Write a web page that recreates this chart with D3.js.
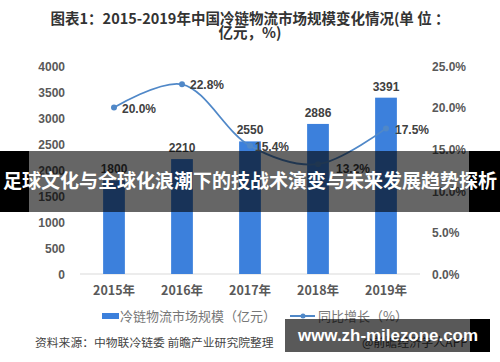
<!DOCTYPE html>
<html><head><meta charset="utf-8">
<script src="https://cdn.jsdelivr.net/npm/d3@7"></script>
<style>html,body{margin:0;padding:0;background:#fff;}svg{display:block;}</style>
</head><body>
<svg id="c" width="500" height="362"></svg>
<script>
const years = ["2015年","2016年","2017年","2018年","2019年"];
const marketSize = [1800, 2210, 2550, 2886, 3391];
const growth = [0.200, 0.228, 0.154, 0.132, 0.175];
const leftTicks = [0,500,1000,1500,2000,2500,3000,3500,4000];
const rightTicks = [0,0.05,0.10,0.15,0.20,0.25];
const titleLines = ["图表1：2015-2019年中国冷链物流市场规模变化情况(单 位 ：","亿元，%)"];
const legendLabels = ["冷链物流市场规模（亿元）","同比增长（%）"];
const sourceText = "资料来源：中物联冷链委 前瞻产业研究院整理";
const creditText = "@前瞻经济学人APP";
const bannerText = "足球文化与全球化浪潮下的技战术演变与未来发展趋势探析";
const urlText = "www.zh-milezone.com";

const svg = d3.select("#c");
const CJK = "'Noto Sans CJK SC','Noto Sans',sans-serif";
const LAT = "'Liberation Sans',Arial,sans-serif";
const barColor = "#3c80dc", lineColor = "#5088c8";

const x = d3.scaleBand().domain(years).range([80,420]).paddingInner(0.68).paddingOuter(0.34);
const yL = d3.scaleLinear().domain([0,4000]).range([274,66]);
const yR = d3.scaleLinear().domain([0,0.25]).range([274,66]);

// title
svg.append("g").selectAll("text").data(titleLines).join("text")
  .attr("x",250).attr("y",(d,i)=>24+i*14).attr("text-anchor","middle")
  .attr("font-family",CJK).attr("font-weight","bold").attr("font-size",14.5)
  .attr("fill","#333").text(d=>d);

// baseline
svg.append("line").attr("x1",80).attr("x2",420).attr("y1",yL(0)).attr("y2",yL(0))
  .attr("stroke","#d9d9d9").attr("stroke-width",1);

// left axis
const gl = svg.append("g").attr("transform","translate(65,0)")
  .call(d3.axisLeft(yL).tickValues(leftTicks).tickSize(0).tickPadding(0).tickFormat(d3.format("d")));
gl.select(".domain").remove();
gl.selectAll("text").attr("font-family",LAT).attr("font-size",12).attr("fill","#595959").attr("font-weight","bold").attr("dy","0.35em");

// right axis
const gr = svg.append("g").attr("transform","translate(432,0)")
  .call(d3.axisRight(yR).tickValues(rightTicks).tickSize(0).tickPadding(0).tickFormat(d3.format(".1%")));
gr.select(".domain").remove();
gr.selectAll("text").attr("font-family",LAT).attr("font-size",12).attr("fill","#595959").attr("font-weight","bold").attr("dy","0.35em");

// x axis
const gx = svg.append("g").attr("transform",`translate(0,${yL(0)})`)
  .call(d3.axisBottom(x).tickSize(0).tickPadding(12));
gx.select(".domain").remove();
gx.selectAll("text").attr("font-family",CJK).attr("font-size",12.5).attr("fill","#595959").attr("font-weight","bold");

// bars
svg.append("g").selectAll("rect").data(marketSize).join("rect")
  .attr("x",(d,i)=>x(years[i])).attr("width",x.bandwidth())
  .attr("y",d=>yL(d)).attr("height",d=>yL(0)-yL(d)).attr("fill",barColor);

svg.append("g").selectAll("text").data(marketSize).join("text")
  .attr("x",(d,i)=>x(years[i])+x.bandwidth()/2).attr("y",d=>yL(d)-7)
  .attr("text-anchor","middle").attr("font-family",LAT).attr("font-size",12).attr("font-weight","bold")
  .attr("fill","#404040").text(d=>d);

// line
const cx = i => x(years[i]) + x.bandwidth()/2;
const line = d3.line().x((d,i)=>cx(i)).y(d=>yR(d)).curve(d3.curveCatmullRom.alpha(0.5));
svg.append("path").datum(growth).attr("d",line).attr("fill","none")
  .attr("stroke",lineColor).attr("stroke-width",1.8);
svg.append("g").selectAll("circle").data(growth).join("circle")
  .attr("cx",(d,i)=>cx(i)).attr("cy",d=>yR(d)).attr("r",3).attr("fill",lineColor);
const lblDx = [8,8,5,18,9], lblDy = [1,0,1,5,1];
svg.append("g").selectAll("text").data(growth).join("text")
  .attr("x",(d,i)=>cx(i)+lblDx[i]).attr("y",(d,i)=>yR(d)+lblDy[i]).attr("dy","0.35em")
  .attr("font-family",LAT).attr("font-size",12).attr("font-weight","bold").attr("fill","#404040")
  .text(d=>d3.format(".1%")(d));

// legend
svg.append("rect").attr("x",102).attr("y",313).attr("width",17).attr("height",6).attr("fill",barColor);
svg.append("text").attr("x",120).attr("y",316).attr("dy","0.35em").attr("font-family",CJK).attr("font-size",13)
  .attr("fill","#777").text(legendLabels[0]);
svg.append("line").attr("x1",290).attr("x2",315).attr("y1",316).attr("y2",316).attr("stroke",lineColor).attr("stroke-width",2);
svg.append("circle").attr("cx",303).attr("cy",316).attr("r",2.5).attr("fill",lineColor);
svg.append("text").attr("x",318).attr("y",316).attr("dy","0.35em").attr("font-family",CJK).attr("font-size",13)
  .attr("fill","#777").text(legendLabels[1]);

// source
svg.append("text").attr("x",35).attr("y",343).attr("dy","0.35em").attr("font-family",CJK).attr("font-size",11.8)
  .attr("fill","#444").text(sourceText);
svg.append("text").attr("x",362).attr("y",343).attr("dy","0.35em").attr("font-family",CJK).attr("font-size",12)
  .attr("fill","#444").text(creditText);

// overlay banner
svg.append("rect").attr("x",0).attr("y",151).attr("width",500).attr("height",61).attr("fill","rgba(0,0,0,0.6)");
svg.append("rect").attr("x",0).attr("y",151).attr("width",29).attr("height",61).attr("fill","#000");
svg.append("rect").attr("x",469).attr("y",151).attr("width",31).attr("height",61).attr("fill","#000");
svg.append("text").attr("x",250).attr("y",181).attr("dy","0.35em").attr("text-anchor","middle")
  .attr("font-family",CJK).attr("font-weight","bold").attr("font-size",19).attr("fill","#fff").text(bannerText);

// url box
svg.append("rect").attr("x",285).attr("y",319).attr("width",185).attr("height",33).attr("fill","rgba(0,0,0,0.65)");
svg.append("rect").attr("x",470).attr("y",319).attr("width",20).attr("height",33).attr("fill","#000");
svg.append("text").attr("x",298).attr("y",335).attr("dy","0.35em")
  .attr("font-family",LAT).attr("font-weight","bold").attr("font-size",17).attr("fill","#fff")
  .attr("textLength",180).attr("lengthAdjust","spacingAndGlyphs").text(urlText);
</script>
</body></html>
